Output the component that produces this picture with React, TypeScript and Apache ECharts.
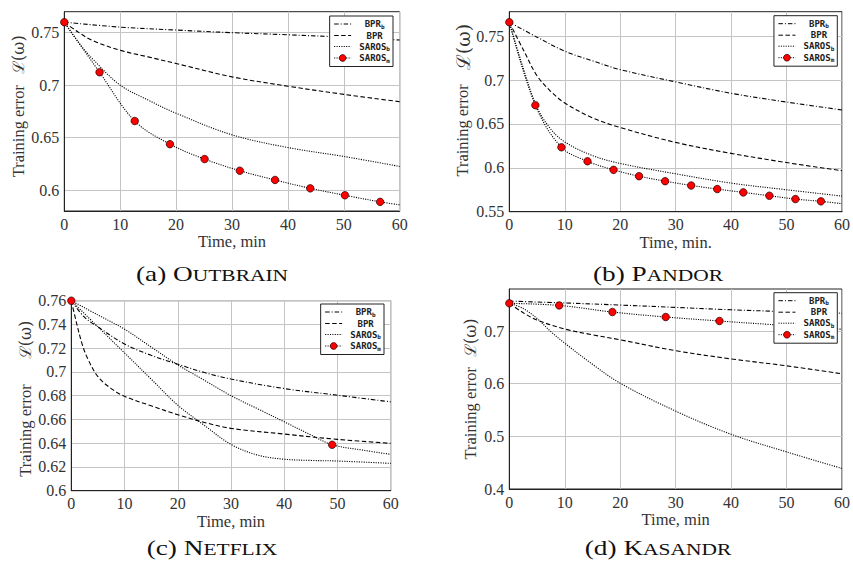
import React, { useEffect, useRef } from "react";
import * as echarts from "echarts";

// ---------- shared ----------
const X_MIN = 0;
const X_MAX = 60;
const X_STEP = 10;
const SERIES_NAMES = ["BPRb", "BPR", "SAROSb", "SAROSm"];
const LEGEND_BASE = ["BPR", "BPR", "SAROS", "SAROS"];
const LEGEND_SUB = ["b", "", "b", "m"];
const CAPTION_LABELS = ["(a) ", "(b) ", "(c) ", "(d) "];
const CAPTION_NAMES = ["OUTBRAIN", "PANDOR", "NETFLIX", "KASANDR"];
const X_NAMES = ["Time, min", "Time, min.", "Time, min", "Time, min"];

// ---------- (a) Outbrain ----------
const A_Y_TICKS = [0.6, 0.65, 0.7, 0.75];
const A_BPRB_T = [0, 10, 20, 30, 40, 50, 60];
const A_BPRB_V = [0.76, 0.7553, 0.7525, 0.75, 0.748, 0.7457, 0.743];
const A_BPR_T = [0, 2.5, 5, 10, 15, 20, 30, 40, 50, 60];
const A_BPR_V = [0.76, 0.7505, 0.7427, 0.7332, 0.7269, 0.7206, 0.7079, 0.699, 0.6912, 0.6842];
const A_SAROSB_T = [0, 2.5, 5, 10, 15, 20, 30, 40, 50, 60];
const A_SAROSB_V = [0.76, 0.741, 0.7253, 0.7, 0.6858, 0.6732, 0.6526, 0.6405, 0.632, 0.6225];
const A_SAROSM_T = [0, 6.3, 12.6, 18.9, 25.1, 31.4, 37.7, 44.0, 50.2, 56.5, 60];
const A_SAROSM_V = [0.76, 0.7123, 0.6658, 0.6437, 0.6295, 0.6184, 0.6096, 0.6016, 0.595, 0.5887, 0.5859];
const A_SAROSM_MARK = [1, 1, 1, 1, 1, 1, 1, 1, 1, 1, 0];

// ---------- (b) Pandor ----------
const B_Y_TICKS = [0.55, 0.6, 0.65, 0.7, 0.75];
const B_BPRB_T = [0, 5, 10, 15, 20, 30, 40, 50, 60];
const B_BPRB_V = [0.766, 0.749, 0.733, 0.722, 0.712, 0.698, 0.685, 0.675, 0.666];
const B_BPR_T = [0, 2.5, 5, 7.5, 10, 15, 20, 30, 40, 50, 60];
const B_BPR_V = [0.766, 0.735, 0.705, 0.687, 0.674, 0.657, 0.646, 0.629, 0.6165, 0.606, 0.5967];
const B_SAROSB_T = [0, 2.5, 5, 7.5, 10, 15, 20, 30, 40, 50, 60];
const B_SAROSB_V = [0.766, 0.714, 0.669, 0.644, 0.6295, 0.614, 0.605, 0.5932, 0.5826, 0.575, 0.5678];
const B_SAROSM_T = [0, 4.7, 9.4, 14.1, 18.8, 23.4, 28.1, 32.8, 37.5, 42.2, 46.9, 51.6, 56.2, 60];
const B_SAROSM_V = [0.766, 0.6714, 0.6234, 0.6075, 0.5977, 0.5905, 0.5848, 0.5799, 0.5758, 0.572, 0.5682, 0.5644, 0.5618, 0.5591];
const B_SAROSM_MARK = [1, 1, 1, 1, 1, 1, 1, 1, 1, 1, 1, 1, 1, 0];

// ---------- (c) Netflix ----------
const C_Y_TICKS = [0.6, 0.62, 0.64, 0.66, 0.68, 0.7, 0.72, 0.74, 0.76];
const C_BPRB_T = [0, 2.5, 5, 10, 15, 20, 25, 30, 40, 50, 60];
const C_BPRB_V = [0.76, 0.746, 0.738, 0.7235, 0.714, 0.7065, 0.6995, 0.694, 0.686, 0.6804, 0.6748];
const C_BPR_T = [0, 1, 2, 3, 5, 7.5, 10, 15, 20, 25, 30, 40, 50, 60];
const C_BPR_V = [0.76, 0.741, 0.724, 0.712, 0.696, 0.686, 0.6795, 0.6715, 0.664, 0.6575, 0.6525, 0.6477, 0.6432, 0.6399];
const C_SAROSB_T = [0, 5, 10, 15, 20, 25, 30, 35, 40, 45, 50, 60];
const C_SAROSB_V = [0.76, 0.738, 0.716, 0.694, 0.672, 0.655, 0.639, 0.63, 0.6265, 0.6255, 0.625, 0.623];
const C_SAROSM_T = [0, 5, 10, 15, 20, 25, 30, 35, 40, 45, 49, 55, 60];
const C_SAROSM_V = [0.76, 0.748, 0.736, 0.721, 0.706, 0.693, 0.68, 0.669, 0.658, 0.647, 0.6387, 0.634, 0.6306];
const C_SAROSM_MARK = [1, 0, 0, 0, 0, 0, 0, 0, 0, 0, 1, 0, 0];

// ---------- (d) Kasandr ----------
const D_Y_TICKS = [0.4, 0.5, 0.6, 0.7];
const D_BPRB_T = [0, 10, 20, 30, 40, 50, 60];
const D_BPRB_V = [0.757, 0.7535, 0.7495, 0.745, 0.7405, 0.737, 0.734];
const D_BPR_T = [0, 2.5, 5, 10, 15, 20, 30, 40, 50, 60];
const D_BPR_V = [0.753, 0.735, 0.721, 0.704, 0.693, 0.6835, 0.6628, 0.6472, 0.634, 0.6189];
const D_SAROSB_T = [0, 2.5, 5, 7.5, 10, 15, 20, 30, 40, 50, 60];
const D_SAROSB_V = [0.753, 0.743, 0.724, 0.699, 0.677, 0.637, 0.601, 0.548, 0.504, 0.4705, 0.439];
const D_SAROSM_T = [0, 9.0, 18.6, 28.2, 37.9, 47, 60];
const D_SAROSM_V = [0.7528, 0.7488, 0.7362, 0.7268, 0.7192, 0.7126, 0.7035];
const D_SAROSM_MARK = [1, 1, 1, 1, 1, 0, 0];

// ---------- styles ----------
const SERIF = "Liberation Serif";
const MATH = "DejaVu Serif";
const MONO = "DejaVu Sans Mono";
const INK = "#000";
const FRAME = "#222";
const TEXT = "#333";
const GRID_LINE = "#c4c4c4";
const MARK_RED = "#ff0000";
const MARK_EDGE = "#200000";
const DASH_DOT = [4.5, 2, 1, 2];
const DASHED = [4.5, 2.5];
const DOTTED = [1.1, 1.3];
const LINE_TYPES = [DASH_DOT, DASHED, DOTTED, DOTTED];

const PANELS = [
  {
    grid: { left: 64.3, top: 11.7, width: 335.4, height: 199.3 },
    yMin: 0.58, yMax: 0.77, yTicks: A_Y_TICKS,
    nameGap: 36, namePad: [0, 0, 0, 10], errGap: 11, mathSize: 16,
    legend: { right: 460, top: 16 },
    caption: { x: 212, y: 273 },
    curves: [
      [A_BPRB_T, A_BPRB_V], [A_BPR_T, A_BPR_V], [A_SAROSB_T, A_SAROSB_V], [A_SAROSM_T, A_SAROSM_V, A_SAROSM_MARK],
    ],
  },
  {
    grid: { left: 509.3, top: 11.7, width: 335, height: 200 },
    yMin: 0.55, yMax: 0.778, yTicks: B_Y_TICKS,
    nameGap: 37, namePad: [0, 0, 0, 23], errGap: 14, mathSize: 19,
    legend: { right: 15.7, top: 15.7 },
    caption: { x: 658, y: 273 },
    curves: [
      [B_BPRB_T, B_BPRB_V], [B_BPR_T, B_BPR_V], [B_SAROSB_T, B_SAROSB_V], [B_SAROSM_T, B_SAROSM_V, B_SAROSM_MARK],
    ],
  },
  {
    grid: { left: 71.3, top: 300.7, width: 319.4, height: 190 },
    yMin: 0.6, yMax: 0.76, yTicks: C_Y_TICKS,
    nameGap: 35, namePad: [0, 6, 0, 0], errGap: 25, mathSize: 16,
    legend: { right: 469, top: 304 },
    caption: { x: 212, y: 547 },
    curves: [
      [C_BPRB_T, C_BPRB_V], [C_BPR_T, C_BPR_V], [C_SAROSB_T, C_SAROSB_V], [C_SAROSM_T, C_SAROSM_V, C_SAROSM_MARK],
    ],
  },
  {
    grid: { left: 509.3, top: 289, width: 335, height: 200 },
    yMin: 0.4, yMax: 0.78, yTicks: D_Y_TICKS,
    nameGap: 30, namePad: [0, 0, 0, 0], errGap: 10, mathSize: 16,
    legend: { right: 15.7, top: 292.7 },
    caption: { x: 658, y: 547 },
    curves: [
      [D_BPRB_T, D_BPRB_V], [D_BPR_T, D_BPR_V], [D_SAROSB_T, D_SAROSB_V], [D_SAROSM_T, D_SAROSM_V, D_SAROSM_MARK],
    ],
  },
];

function buildData(t: number[], v: number[], mark?: number[]) {
  return t.map((x, i) => {
    if (!mark) return [x, v[i]];
    return mark[i] ? [x, v[i]] : { value: [x, v[i]], symbol: "none" };
  });
}

function legendFormatter(name: string) {
  const i = SERIES_NAMES.indexOf(name);
  const sub = LEGEND_SUB[i];
  return sub ? `{n|${LEGEND_BASE[i]}}{s|${sub}}` : `{n|${LEGEND_BASE[i]}}`;
}

function buildOption() {
  const grid: any[] = [];
  const xAxis: any[] = [];
  const yAxis: any[] = [];
  const series: any[] = [];
  const legend: any[] = [];
  const graphic: any[] = [];

  PANELS.forEach((p, gi) => {
    grid.push({ ...p.grid, show: true, borderColor: FRAME, borderWidth: 1, backgroundColor: "transparent" });
    xAxis.push({
      type: "value", gridIndex: gi, min: X_MIN, max: X_MAX, interval: X_STEP,
      axisLine: { show: true, onZero: false, lineStyle: { color: FRAME, width: 1 } },
      axisTick: { show: false },
      axisLabel: { fontFamily: SERIF, fontSize: 16, color: TEXT, margin: 5 },
      splitLine: { show: true, lineStyle: { color: GRID_LINE, width: 1 } },
      name: X_NAMES[gi], nameLocation: "middle", nameGap: 21,
      nameTextStyle: { fontFamily: SERIF, fontSize: 16.5, color: TEXT },
    });
    yAxis.push({
      type: "value", gridIndex: gi, min: p.yMin, max: p.yMax,
      axisLine: { show: true, onZero: false, lineStyle: { color: FRAME, width: 1 } },
      axisTick: { show: false, customValues: p.yTicks },
      axisLabel: { customValues: p.yTicks, fontFamily: SERIF, fontSize: 16, color: TEXT, margin: 5 },
      splitLine: { show: true, lineStyle: { color: GRID_LINE, width: 1 } },
      name: "{a|Training error}{g| }{b|ℒ(ω)}",
      nameLocation: "middle", nameRotate: 90, nameGap: p.nameGap,
      nameTextStyle: {
        fontFamily: SERIF, fontSize: 16, color: TEXT, padding: p.namePad,
        rich: {
          a: { fontFamily: SERIF, fontSize: 16.5, color: TEXT, lineHeight: 18 },
          g: { fontFamily: SERIF, fontSize: 16, width: p.errGap, lineHeight: 18 },
          b: { fontFamily: MATH, fontSize: p.mathSize, color: TEXT, lineHeight: 18 },
        },
      },
    });

    p.curves.forEach((c: any[], si) => {
      const isM = si === 3;
      series.push({
        type: "line", name: SERIES_NAMES[si], xAxisIndex: gi, yAxisIndex: gi,
        data: buildData(c[0], c[1], c[2]),
        smooth: 0.35,
        symbol: isM ? "circle" : "none",
        symbolSize: 7.5,
        showSymbol: isM,
        lineStyle: { color: INK, width: 1.1, type: LINE_TYPES[si] },
        itemStyle: isM ? { color: MARK_RED, borderColor: MARK_EDGE, borderWidth: 0.7 } : { color: INK },
        emphasis: { disabled: true },
        silent: true,
        z: isM ? 3 : 2,
      });
    });

    legend.push({
      orient: "vertical", right: p.legend.right, top: p.legend.top,
      itemWidth: 17, itemHeight: 8.5, itemGap: 2,
      padding: [3.5, 3, 3.5, 4],
      backgroundColor: "#fff", borderColor: FRAME, borderWidth: 1, borderRadius: 0,
      selectedMode: false,
      formatter: legendFormatter,
      data: SERIES_NAMES.map((n, si) => ({
        name: n,
        itemStyle: si === 3 ? { color: MARK_RED, borderColor: MARK_EDGE, borderWidth: 0.7 } : { opacity: 0 },
        lineStyle: { color: INK, width: 1, type: LINE_TYPES[si], opacity: 1 },
      })),
      textStyle: {
        fontFamily: MONO, fontSize: 9, fontWeight: "bold", color: "#222", width: 37,
        rich: {
          n: { fontFamily: MONO, fontSize: 9, fontWeight: "bold", color: "#222", align: "center", lineHeight: 10 },
          s: { fontFamily: MONO, fontSize: 6, color: "#222", align: "center", verticalAlign: "bottom", lineHeight: 8 },
        },
      },
    });

    graphic.push({
      type: "text", x: p.caption.x, y: p.caption.y, scaleX: 1.3, z: 10, silent: true,
      style: {
        text: `{p|${CAPTION_LABELS[gi]}${CAPTION_NAMES[gi].charAt(0)}}{s|${CAPTION_NAMES[gi].slice(1)}}`,
        align: "center", verticalAlign: "middle",
        rich: {
          p: { fontFamily: SERIF, fontSize: 21, lineHeight: 22, fill: "#111", verticalAlign: "bottom" },
          s: { fontFamily: SERIF, fontSize: 16.5, lineHeight: 18.9, fill: "#111", verticalAlign: "bottom" },
        },
      },
    });
  });

  return {
    animation: false,
    backgroundColor: "#fff",
    textStyle: { fontFamily: SERIF },
    grid, xAxis, yAxis, series, legend, graphic,
  };
}

export default function App() {
  const ref = useRef<HTMLDivElement>(null);
  useEffect(() => {
    if (!ref.current) return;
    const chart = echarts.init(ref.current, undefined, { renderer: "svg" });
    chart.setOption(buildOption() as any);
    return () => chart.dispose();
  }, []);
  return (
    <div
      ref={ref}
      style={{ position: "absolute", left: 0, top: 0, width: 853, height: 563, background: "#fff" }}
    />
  );
}
